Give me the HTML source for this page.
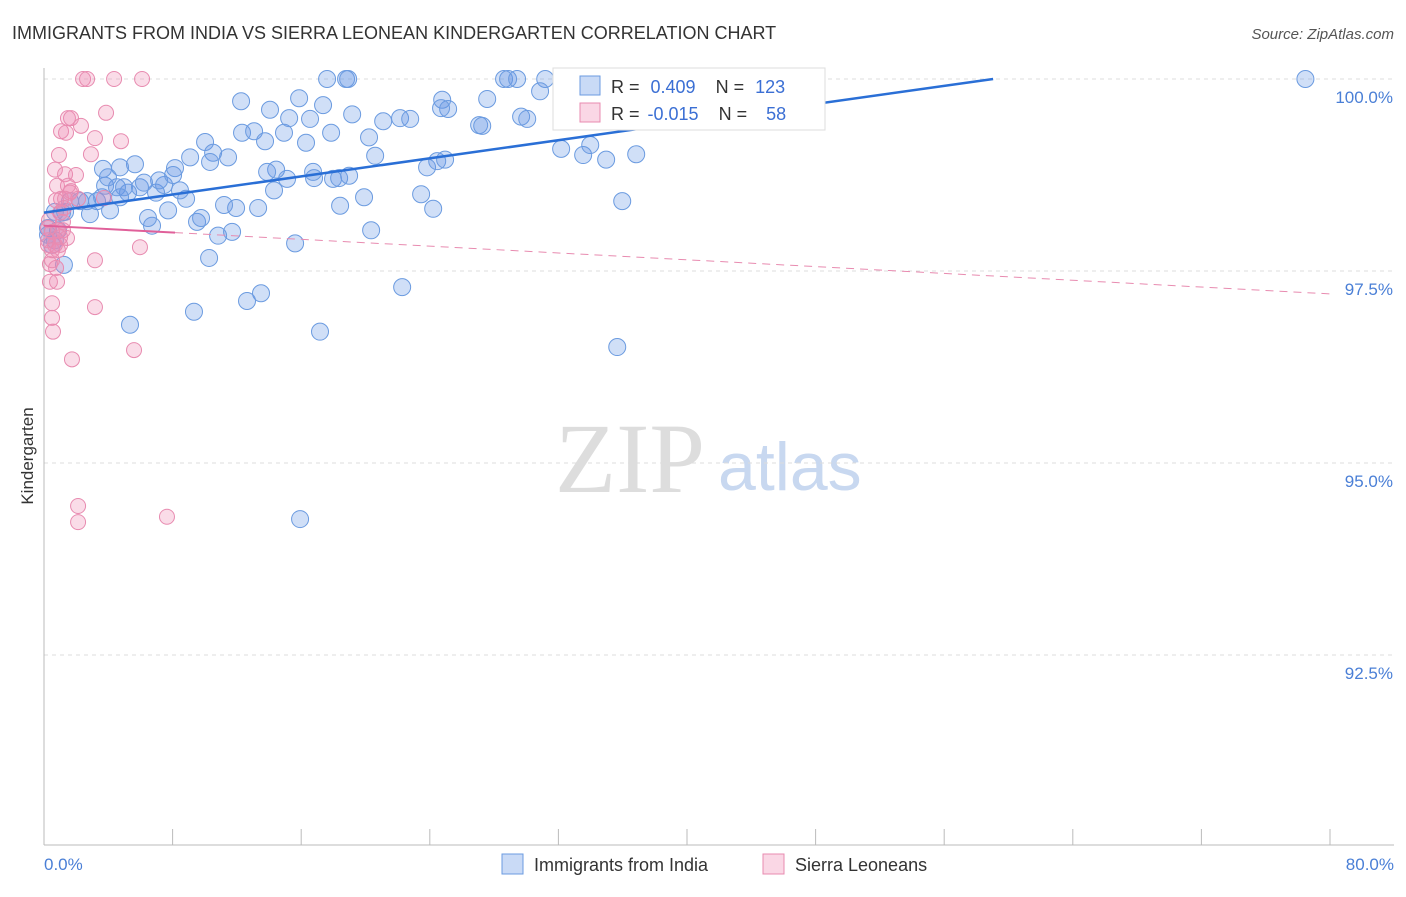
<!DOCTYPE html>
<html><head><meta charset="utf-8"><style>
body{margin:0;background:#fff;font-family:"Liberation Sans",sans-serif}
svg text{font-family:"Liberation Sans",sans-serif}
</style></head><body>
<svg id="c" width="1406" height="892">
<text x="12" y="39" font-size="18" fill="#333">IMMIGRANTS FROM INDIA VS SIERRA LEONEAN KINDERGARTEN CORRELATION CHART</text>
<text x="1394" y="39" font-size="15" fill="#555" font-style="italic" text-anchor="end">Source: ZipAtlas.com</text>
<text transform="translate(33,456) rotate(-90)" font-size="17" fill="#333" text-anchor="middle">Kindergarten</text>
<text x="555" y="492" font-size="100" fill="#ddd" font-family="Liberation Serif" style="font-family:'Liberation Serif',serif">ZIP</text>
<text x="718" y="490" font-size="68" fill="#c8d8f0">atlas</text>
<g id="grid"></g><g id="marks"></g><g id="lines"></g>
<g>
<rect x="553" y="68" width="272" height="62" fill="#fff" stroke="#ddd"/>
<rect x="580" y="76" width="20" height="19" fill="rgba(100,150,230,0.35)" stroke="#6b9be0"/>
<rect x="580" y="103" width="20" height="19" fill="rgba(240,140,180,0.35)" stroke="#e88bb0"/>
<text x="611" y="93" font-size="18" fill="#333">R = <tspan fill="#3b6fd4" dx="6">0.409</tspan><tspan dx="20">N = </tspan><tspan fill="#3b6fd4" dx="6">123</tspan></text>
<text x="611" y="120" font-size="18" fill="#333">R = <tspan fill="#3b6fd4" dx="3">-0.015</tspan><tspan dx="20">N = </tspan><tspan fill="#3b6fd4" dx="14">58</tspan></text>
</g>
<g>
<rect x="502" y="854" width="21" height="20" fill="rgba(100,150,230,0.35)" stroke="#6b9be0"/>
<text x="534" y="871" font-size="18" fill="#333">Immigrants from India</text>
<rect x="763" y="854" width="21" height="20" fill="rgba(240,140,180,0.35)" stroke="#e88bb0"/>
<text x="795" y="871" font-size="18" fill="#333">Sierra Leoneans</text>
</g>
</svg>
<script>
const yTicks=[100,97.5,95,92.5];
const yTickLabels=["100.0%","97.5%","95.0%","92.5%"];
const xEndLabels=["0.0%","80.0%"];
const indiaX=[12.26,14.06,15.87,17.36,17.61,18.79,18.92,19.17,21.10,22.15,22.78,24.77,25.14,27.57,27.07,28.62,28.87,29.43,29.68,30.06,31.18,32.17,33.54,33.98,34.97,36.84,36.53,78.47,39.64,35.97,35.66,22.28,17.17,15.93,13.50,12.63,9.33,5.35,1.24,10.27,11.70,10.83,6.72,9.52,9.77,11.95,13.32,11.20,8.84,7.72,6.47,2.86,1.12,0.68,1.62,2.24,2.68,4.11,3.30,3.80,4.54,5.23,5.97,6.97,7.47,8.46,9.09,10.02,10.52,11.45,10.33,8.15,7.16,8.03,5.66,4.73,3.67,3.98,4.98,6.22,12.32,13.07,13.75,14.93,16.30,17.86,20.22,20.60,14.44,13.88,15.12,14.31,16.80,16.74,17.98,18.36,18.42,19.91,20.35,15.62,23.83,24.46,24.95,23.46,24.21,27.26,24.70,18.98,15.25,16.55,30.86,34.60,37.09,1.31,0.87,0.50,0.25,0.25,0.68,3.61,4.73];
const indiaY=[99.71,99.60,99.75,99.66,100,100,100,99.54,99.45,99.49,99.48,99.73,99.61,99.74,99.40,100,100,100,99.51,99.48,100,99.09,99.01,99.14,98.95,99.02,100,100,100,98.41,96.51,97.29,96.71,94.27,97.21,97.11,96.97,96.80,97.58,97.67,98.01,97.96,98.09,98.14,98.19,98.32,98.32,98.36,98.44,98.29,98.19,98.24,98.26,98.27,98.41,98.41,98.41,98.29,98.41,98.61,98.59,98.52,98.59,98.52,98.62,98.55,98.98,99.18,99.04,98.98,98.92,98.84,98.68,98.75,98.89,98.85,98.83,98.72,98.59,98.65,99.30,99.32,99.19,99.30,99.17,99.30,99.24,99.00,98.82,98.79,98.70,98.55,98.71,98.79,98.70,98.71,98.35,98.46,98.03,97.86,98.85,98.93,98.95,98.50,98.31,99.39,99.62,98.74,99.49,99.48,99.84,99.99,99.99,98.27,98.03,97.84,97.97,98.06,97.90,98.46,98.46];
const sierraX=[2.43,2.68,4.36,6.10,1.49,1.68,3.86,2.30,1.06,1.37,3.17,4.79,0.93,2.92,0.68,1.31,1.99,0.81,1.49,1.68,1.06,1.31,0.75,1.00,2.12,0.25,0.50,0.87,1.18,1.43,0.25,0.68,1.00,5.97,3.17,0.37,0.75,0.37,0.81,0.50,3.17,0.50,0.56,1.74,5.60,2.12,2.12,7.65,3.73,0.25,0.50,1.00,1.62,1.24,0.50,0.31,1.18,0.87];
const sierraY=[100,100,100,100,99.49,99.49,99.56,99.39,99.32,99.30,99.23,99.19,99.01,99.02,98.82,98.76,98.75,98.61,98.61,98.54,98.44,98.44,98.42,98.26,98.44,98.06,98.01,98.03,98.03,97.93,97.84,97.84,97.84,97.81,97.64,97.59,97.54,97.36,97.36,97.08,97.03,96.89,96.71,96.35,96.47,94.44,94.23,94.30,98.45,97.90,97.64,97.94,98.52,98.32,97.77,98.16,98.14,97.77];
const indiaTrend=[98.26,0.02947];
const sierraTrend=[98.09,-0.0111];
const NS="http://www.w3.org/2000/svg";
const X=v=>44+v*16.075, Y=v=>79+(100-v)*76.8;
function mk(tag,attrs,parent){const e=document.createElementNS(NS,tag);for(const k in attrs)e.setAttribute(k,attrs[k]);parent.appendChild(e);return e;}
const grid=document.getElementById('grid'),marks=document.getElementById('marks'),lines=document.getElementById('lines');
yTicks.forEach((t,i)=>{
 const l=mk('line',{x1:44,x2:1394,y1:Y(t),y2:Y(t),stroke:'#ddd','stroke-dasharray':'4,4'},grid);
 
 
 const tx=mk('text',{x:1393,y:Y(t)+24,'font-size':17,fill:'#4a7fd6','text-anchor':'end'},grid);
 tx.textContent=yTickLabels[i];
 
 
});
const ax=mk('line',{x1:44,x2:1394,y1:845,y2:845,stroke:'#bbb'},grid);


const ay=mk('line',{x1:44,x2:44,y1:68,y2:845,stroke:'#bbb'},grid);


for(let i=0;i<=10;i++){
 const t=mk('line',{x1:X(i*8),x2:X(i*8),y1:829,y2:845,stroke:'#bbb'},grid);
 
 
}
[[0,'start',44],[1,'end',1394]].forEach(([i,a,x])=>{
 const t=mk('text',{x:x,y:870,'font-size':17,fill:'#4a7fd6','text-anchor':a},grid);
 t.textContent=xEndLabels[i];
 
 
});
indiaX.forEach((x,i)=>{
 const c=mk('circle',{cx:X(x),cy:Y(indiaY[i]),r:8.5,fill:'rgba(100,150,230,0.3)',stroke:'#6b9be0','stroke-width':1},marks);
 
 
});
sierraX.forEach((x,i)=>{
 const c=mk('circle',{cx:X(x),cy:Y(sierraY[i]),r:7.5,fill:'rgba(240,140,180,0.3)',stroke:'#e88bb0','stroke-width':1},marks);
 
 
});
const xe=(100-indiaTrend[0])/indiaTrend[1];
const bl=mk('line',{x1:X(0),y1:Y(indiaTrend[0]),x2:X(xe),y2:Y(100),stroke:'#2a6fd6','stroke-width':2.5},lines);


const ps=mk('line',{x1:X(0),y1:Y(sierraTrend[0]),x2:X(8.15),y2:Y(sierraTrend[0]+8.15*sierraTrend[1]),stroke:'#e0609a','stroke-width':2},lines);


const pd=mk('line',{x1:X(8.15),y1:Y(sierraTrend[0]+8.15*sierraTrend[1]),x2:X(80),y2:Y(sierraTrend[0]+80*sierraTrend[1]),stroke:'#e88bb0','stroke-width':1,'stroke-dasharray':'8,6'},lines);


</script>
</body></html>
